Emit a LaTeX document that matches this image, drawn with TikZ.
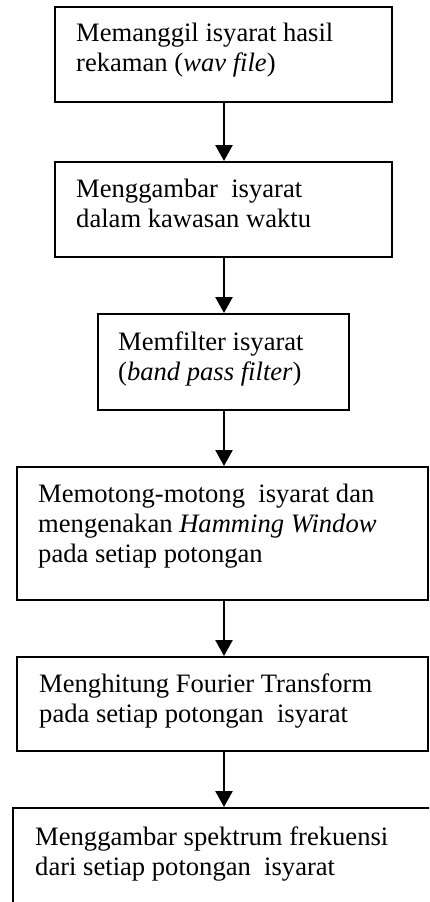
\documentclass[tikz,border=0pt]{standalone}
\usepackage{fontspec}
\setmainfont{Liberation Serif}
\usetikzlibrary{arrows.meta}
\begin{document}
\begin{tikzpicture}[x=1pt,y=-1pt,
  box/.style={draw=black,line width=2pt,minimum width=#1,inner sep=0pt},
  lbl/.style={anchor=base west,align=left,inner sep=0pt,font=\fontsize{26.6}{30}\selectfont},
  arr/.style={line width=2.6pt,-{Triangle[length=16pt,width=17pt]}}]
\clip (0,0) rectangle (429,902);
\fill[white] (0,0) rectangle (429,902);
\node[box=337pt,minimum height=95pt] (b1) at (223.5,54.5) {};
\node[box=337pt,minimum height=95pt] (b2) at (223.5,209.5) {};
\node[box=251pt,minimum height=96pt] (b3) at (223.5,362) {};
\node[box=411pt,minimum height=133pt] (b4) at (222.5,533.5) {};
\node[box=411pt,minimum height=94pt] (b5) at (222.5,704) {};
\node[box=427pt,minimum height=112pt] (b6) at (226.5,864) {};
\node[lbl] (t1) at (76,71) {Memanggil isyarat hasil\\rekaman (\textit{wav file})};
\node[lbl] (t2) at (76,227) {Menggambar\ \ isyarat\\dalam kawasan waktu};
\node[lbl] (t3) at (118,380) {Memfilter isyarat\\(\textit{band pass filter})};
\node[lbl] (t4) at (38,562) {Memotong-motong\ \ isyarat dan\\mengenakan \textit{Hamming Window}\\pada setiap potongan};
\node[lbl] (t5) at (39,722) {Menghitung Fourier Transform\\pada setiap potongan\ \ isyarat};
\node[lbl] (t6) at (35,875) {Menggambar spektrum frekuensi\\dari setiap potongan\ \ isyarat};
\draw[arr] (b1.south -| 224,0) -- (b2.north -| 224,0);
\draw[arr] (b2.south -| 224,0) -- (b3.north -| 224,0);
\draw[arr] (b3.south -| 224,0) -- (b4.north -| 224,0);
\draw[arr] (b4.south -| 224,0) -- (b5.north -| 224,0);
\draw[arr] (b5.south -| 224,0) -- (b6.north -| 224,0);
\end{tikzpicture}
\end{document}
